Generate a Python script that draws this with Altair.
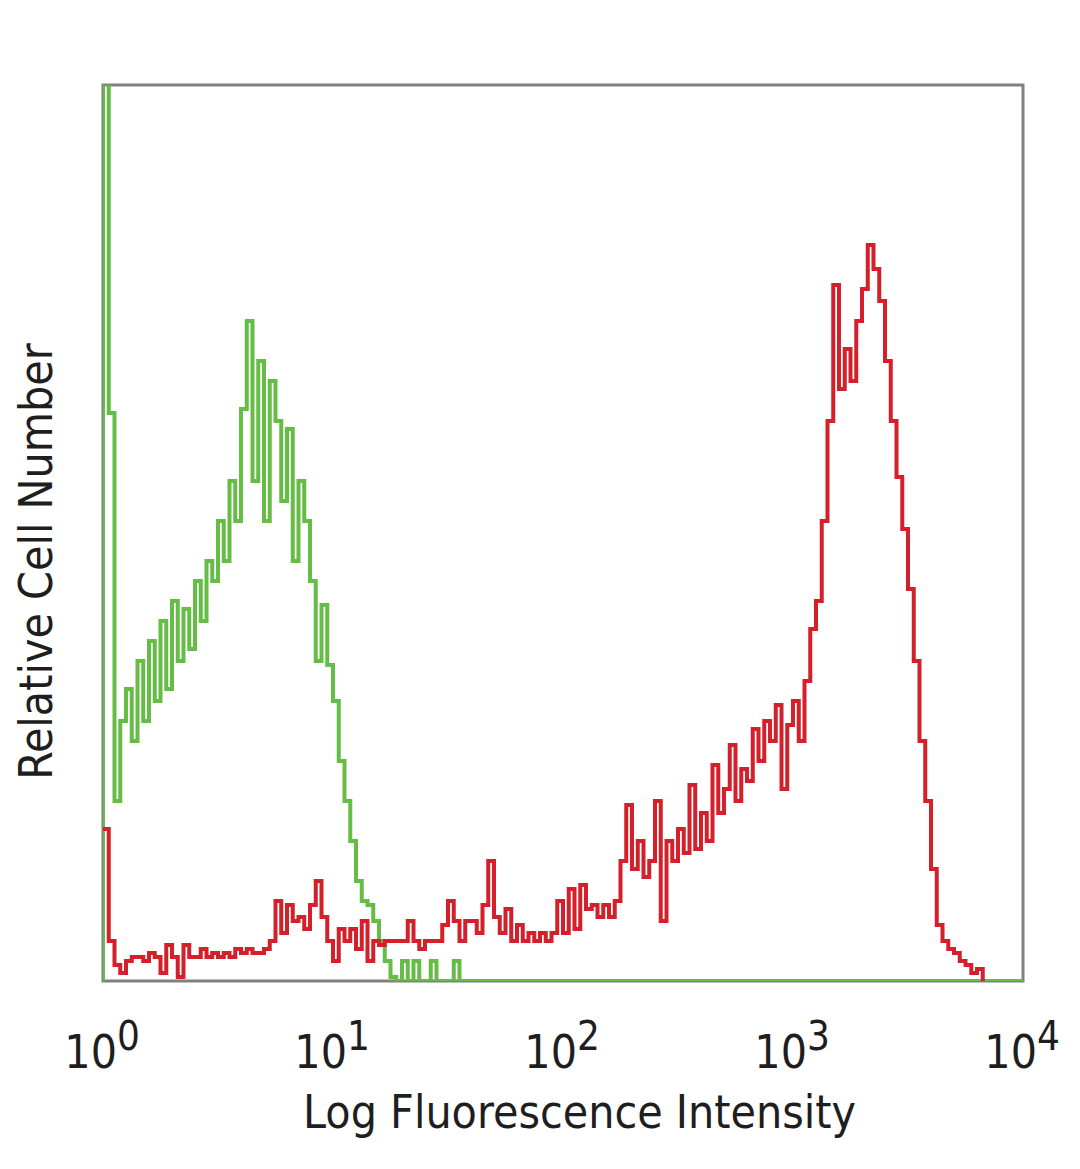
import altair as alt
import pandas as pd

# ---- data ----
N_CHANNELS = 160          # channels spread evenly over 4 log decades
DECADES = 4

green_counts = [
    300, 142, 45, 65, 73, 60, 80, 65, 85, 70,
    90, 73, 95, 80, 93, 83, 100, 90, 105, 100,
    115, 105, 125, 115, 143, 165, 125, 155, 115, 150,
    140, 120, 138, 105, 125, 115, 100, 80, 94, 79,
    70, 55, 45, 35, 25, 20, 19, 15, 10, 5,
    1, 0, 5, 0, 5, 0, 0, 5, 0, 0,
    0, 5,
]

red_counts = [
    38, 10, 4, 2, 5, 6, 6, 5, 7, 6,
    2, 9, 6, 1, 9, 6, 6, 8, 6, 7,
    6, 7, 6, 8, 7, 8, 7, 7, 8, 10,
    20, 12, 19, 15, 16, 13, 19, 25, 16, 10,
    5, 13, 10, 13, 8, 15, 5, 10, 9, 10,
    10, 10, 10, 15, 10, 8, 10, 10, 10, 14,
    20, 15, 10, 15, 15, 12, 19, 30, 16, 12,
    18, 10, 14, 10, 12, 10, 12, 10, 12, 20,
    12, 23, 13, 24, 18, 19, 16, 19, 16, 20,
    30, 44, 28, 35, 26, 30, 45, 15, 35, 30,
    38, 32, 49, 33, 42, 35, 54, 42, 48, 59,
    45, 53, 50, 63, 55, 65, 60, 69, 48, 64,
    70, 60, 75, 88, 95, 115, 140, 174, 148, 158,
    150, 165, 173, 184, 178, 170, 155, 140, 126, 113,
    98, 80, 60, 45, 28, 14, 10, 8, 7, 5,
    4, 2, 3, 0,
]

tick_values = [1, 10, 100, 1000, 10000]
tick_base = ["10", "10", "10", "10", "10"]
tick_exp = ["0", "1", "2", "3", "4"]

x_title = "Log Fluorescence Intensity"
y_title = "Relative Cell Number"

GREEN = "#66BD45"
RED = "#D3202A"
FONT = "DejaVu Sans Condensed"

# ---- build step-histogram tables ----
edges = [10 ** (DECADES * i / N_CHANNELS) for i in range(N_CHANNELS + 1)]

g_full = green_counts + [0] * (N_CHANNELS - len(green_counts))
green_rows = [{"x": edges[0], "count": 0, "order": -1}]
green_rows += [{"x": edges[i], "count": g_full[i], "order": i} for i in range(N_CHANNELS)]
green_rows += [{"x": edges[N_CHANNELS], "count": 0, "order": N_CHANNELS}]
green_df = pd.DataFrame(green_rows)

red_rows = [{"x": edges[i], "count": red_counts[i], "order": i} for i in range(len(red_counts))]
red_df = pd.DataFrame(red_rows)

ticks_df = pd.DataFrame({"v": tick_values, "base": tick_base, "exp": tick_exp})

x_scale = alt.Scale(type="log", domain=[1, 10000], nice=False)
y_scale = alt.Scale(domain=[0, 224], nice=False, zero=True)

x_axis = alt.Axis(labels=False, ticks=False, domain=False, grid=False,
                  title=x_title, titleX=476, titleY=146,
                  titleBaseline="alphabetic", titleAlign="center")
y_axis = alt.Axis(labels=False, ticks=False, domain=False, grid=False,
                  title=y_title, titleX=-66, titleY=476, titleAngle=-90,
                  titleBaseline="middle", titleAlign="center")

green = alt.Chart(green_df).mark_line(
    interpolate="step-after", color=GREEN, strokeWidth=4, clip=True
).encode(
    x=alt.X("x:Q", scale=x_scale, axis=x_axis),
    y=alt.Y("count:Q", scale=y_scale, axis=y_axis),
    order="order:Q",
)

red = alt.Chart(red_df).mark_line(
    interpolate="step-after", color=RED, strokeWidth=4, clip=True
).encode(
    x=alt.X("x:Q", scale=x_scale),
    y=alt.Y("count:Q", scale=y_scale),
    order="order:Q",
)

base_labels = alt.Chart(ticks_df).mark_text(
    align="right", baseline="alphabetic", dx=14, font=FONT, fontSize=46, color="#1e1e1e"
).encode(
    x=alt.X("v:Q", scale=x_scale),
    y=alt.value(983),
    text="base:N",
)

exp_labels = alt.Chart(ticks_df).mark_text(
    align="left", baseline="alphabetic", dx=14, font=FONT, fontSize=40, color="#1e1e1e"
).encode(
    x=alt.X("v:Q", scale=x_scale),
    y=alt.value(965),
    text="exp:N",
)

chart = alt.layer(green, red, base_labels, exp_labels).properties(
    width=920,
    height=896,
    autosize=alt.AutoSizeParams(type="none"),
    padding={"left": 95, "top": 77, "right": 45, "bottom": 170},
).configure_view(
    stroke="#808080", strokeWidth=3
).configure_axis(
    titleFont=FONT, titleFontSize=46, titleFontWeight="normal", titleColor="#1e1e1e",
    titlePadding=0,
)

chart.save("out.html", embed_options={"renderer": "svg", "actions": False})
